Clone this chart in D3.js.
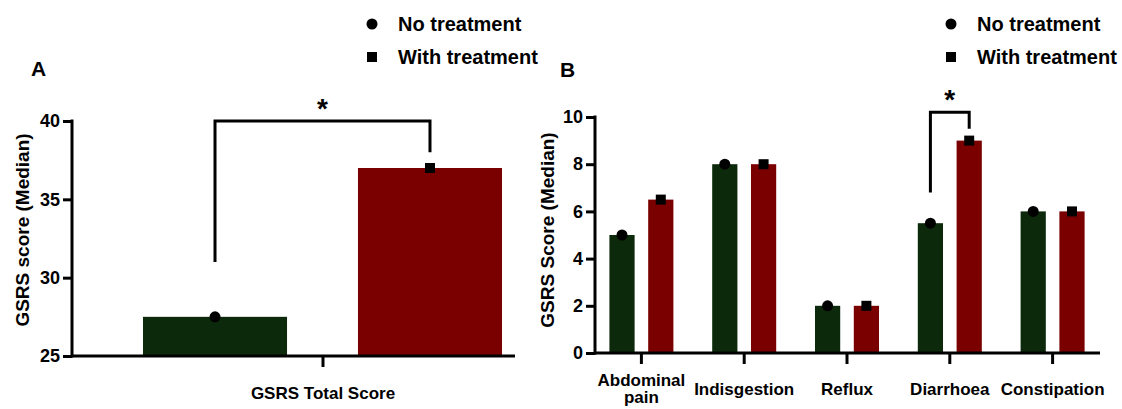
<!DOCTYPE html>
<html>
<head>
<meta charset="utf-8">
<script src="https://cdn.jsdelivr.net/npm/d3@7"></script>
<style>
  body { margin: 0; background: #fff; }
  svg text { font-family: "Liberation Sans", Arial, sans-serif; font-weight: bold; fill: #000; }
</style>
</head>
<body>
<svg id="svg" width="1122" height="409"></svg>
<script>
// data
const series = ['No treatment', 'With treatment']
const colors = ['#0c2a0b', '#7a0000']

const totalCategory = ['GSRS Total Score']
const totalValues = [27.5, 37]
const totalTicks = [25, 30, 35, 40]

const domains = ['Abdominal pain', 'Indisgestion', 'Reflux', 'Diarrhoea', 'Constipation']
const noTreatment = [5, 8, 2, 5.5, 6]
const withTreatment = [6.5, 8, 2, 9, 6]
const domainTicks = [0, 2, 4, 6, 8, 10]

const svg = d3.select('#svg')

function legend(x, y) {
  const g = svg.append('g').attr('transform', `translate(${x}, ${y})`)
  g.append('circle').attr('cx', 0).attr('cy', 0).attr('r', 5.5)
  g.append('rect').attr('x', -5).attr('y', 28).attr('width', 10).attr('height', 10)
  g.selectAll('text').data(series).enter().append('text')
    .attr('x', 26).attr('y', (d, i) => 7 + i * 33)
    .style('font-size', '20px')
    .text(d => d)
}

function marker(g, i, cx, cy) {
  if (i === 0) g.append('circle').attr('cx', cx).attr('cy', cy).attr('r', 5.5)
  else g.append('rect').attr('x', cx - 5).attr('y', cy - 5).attr('width', 10).attr('height', 10)
}

function styleAxis(g) {
  g.select('.domain').remove()
  g.selectAll('line').attr('stroke', '#000').attr('stroke-width', 3)
  g.selectAll('text').style('font-size', '18px').attr('fill', '#000')
}

function bracket(x1, x2, yTop, yLeft, yRight) {
  svg.append('path')
    .attr('d', `M${x1},${yLeft}V${yTop}H${x2}V${yRight}`)
    .attr('fill', 'none').attr('stroke', '#000').attr('stroke-width', 3)
  svg.append('text')
    .attr('x', (x1 + x2) / 2).attr('y', yTop - 3)
    .attr('text-anchor', 'middle')
    .style('font-size', '28px')
    .text('*')
}

// ---------- panel A ----------
const yA = d3.scaleLinear().domain([25, 40]).range([356, 121])
const xA = d3.scaleBand().domain(totalCategory).range([131, 515])
const sA = d3.scaleBand().domain(series).range([12, 371]).paddingInner(0.33)

const barsA = svg.append('g')
series.forEach((s, i) => {
  const x = xA(totalCategory[0]) + sA(s)
  barsA.append('rect')
    .attr('x', x).attr('y', yA(totalValues[i]))
    .attr('width', sA.bandwidth())
    .attr('height', yA(25) - yA(totalValues[i]))
    .attr('fill', colors[i])
  marker(barsA, i, x + sA.bandwidth() / 2, yA(totalValues[i]))
})

svg.append('g').attr('transform', 'translate(72, 0)')
  .call(d3.axisLeft(yA).tickValues(totalTicks).tickSize(9).tickPadding(3))
  .call(styleAxis)
svg.append('g').attr('transform', `translate(0, ${yA(25)})`)
  .call(d3.axisBottom(xA).tickSize(11).tickFormat(''))
  .call(styleAxis)
svg.append('line').attr('x1', 72).attr('x2', 515).attr('y1', yA(25)).attr('y2', yA(25))
  .attr('stroke', '#000').attr('stroke-width', 3)
svg.append('line').attr('x1', 72).attr('x2', 72).attr('y1', yA(40) - 1.5).attr('y2', yA(25) + 1.5)
  .attr('stroke', '#000').attr('stroke-width', 3)

svg.append('text').attr('x', xA(totalCategory[0]) + xA.bandwidth() / 2).attr('y', 399)
  .attr('text-anchor', 'middle').style('font-size', '17px').text(totalCategory[0])
svg.append('text').attr('transform', 'translate(29, 230) rotate(-90)')
  .attr('text-anchor', 'middle').style('font-size', '19px').text('GSRS score (Median)')
svg.append('text').attr('x', 31).attr('y', 76).style('font-size', '21px').text('A')
legend(372, 24)

const cxA = s => xA(totalCategory[0]) + sA(s) + sA.bandwidth() / 2
bracket(cxA(series[0]), cxA(series[1]), yA(40), yA(31), yA(38))

// ---------- panel B ----------
const yB = d3.scaleLinear().domain([0, 10]).range([353, 117])
const xB = d3.scaleBand().domain(domains).range([590, 1104])
const sB = d3.scaleBand().domain(series).range([-32, 32]).paddingInner(0.35)
const centerB = d => xB(d) + xB.bandwidth() / 2

const barsB = svg.append('g')
;[noTreatment, withTreatment].forEach((vals, i) => {
  domains.forEach((d, j) => {
    const x = centerB(d) + sB(series[i])
    barsB.append('rect')
      .attr('x', x).attr('y', yB(vals[j]))
      .attr('width', sB.bandwidth())
      .attr('height', yB(0) - yB(vals[j]))
      .attr('fill', colors[i])
    marker(barsB, i, x + sB.bandwidth() / 2, yB(vals[j]))
  })
})

svg.append('g').attr('transform', 'translate(595, 0)')
  .call(d3.axisLeft(yB).tickValues(domainTicks).tickSize(9).tickPadding(3))
  .call(styleAxis)
svg.append('g').attr('transform', `translate(0, ${yB(0)})`)
  .call(d3.axisBottom(xB).tickSize(11).tickFormat(''))
  .call(styleAxis)
svg.append('line').attr('x1', 595).attr('x2', 1100).attr('y1', yB(0)).attr('y2', yB(0))
  .attr('stroke', '#000').attr('stroke-width', 3)
svg.append('line').attr('x1', 595).attr('x2', 595).attr('y1', yB(10) - 1.5).attr('y2', yB(0) + 1.5)
  .attr('stroke', '#000').attr('stroke-width', 3)

// category labels, two lines where needed
domains.forEach(d => {
  const words = d === 'Abdominal pain' ? ['Abdominal', 'pain'] : [d]
  const t = svg.append('text').attr('text-anchor', 'middle').style('font-size', '17px')
  words.forEach((w, k) => {
    t.append('tspan').attr('x', centerB(d))
      .attr('y', words.length === 1 ? 395 : 386 + k * 17)
      .text(w)
  })
})

svg.append('text').attr('transform', 'translate(554, 230) rotate(-90)')
  .attr('text-anchor', 'middle').style('font-size', '19px').text('GSRS Score (Median)')
svg.append('text').attr('x', 560).attr('y', 77).style('font-size', '21px').text('B')
legend(951, 24)

const cxB = (d, s) => centerB(d) + sB(s) + sB.bandwidth() / 2
bracket(cxB('Diarrhoea', series[0]), cxB('Diarrhoea', series[1]), yB(10.2), yB(6.8), yB(9.5))
</script>
</body>
</html>
